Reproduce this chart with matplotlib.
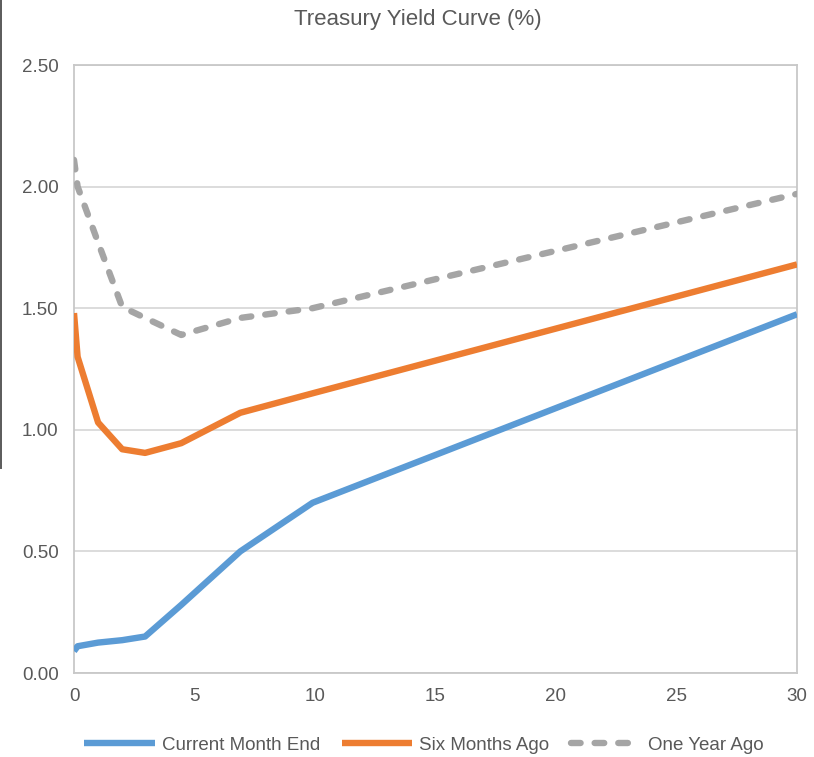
import matplotlib
matplotlib.use("Agg")
import matplotlib.pyplot as plt
from matplotlib.lines import Line2D

plt.rcParams['font.family'] = ['Liberation Sans', 'DejaVu Sans']

maturity = [0.0, 0.15, 1, 2, 2.95, 4.45, 6.9, 9.9, 30]
current_month_end = [0.09, 0.11, 0.125, 0.135, 0.15, 0.28, 0.50, 0.70, 1.475]
six_months_ago = [1.48, 1.30, 1.03, 0.92, 0.905, 0.945, 1.07, 1.15, 1.68]
one_year_ago = [2.11, 2.00, 1.77, 1.505, 1.46, 1.39, 1.46, 1.50, 1.97]

x_ticks = [0, 5, 10, 15, 20, 25, 30]
y_ticks = [0.0, 0.5, 1.0, 1.5, 2.0, 2.5]
title = "Treasury Yield Curve (%)"

W, H = 814, 757
fig = plt.figure(figsize=(W / 100, H / 100), dpi=100)
ax = fig.add_axes([74 / W, 1 - 673 / H, (797 - 74) / W, (673 - 65) / H])

grid_c = '#D9D9D9'
text_c = '#595959'

ax.plot(maturity, current_month_end, color='#5B9BD5', lw=4.6,
        solid_joinstyle='round', solid_capstyle='butt', label='Current Month End', zorder=3)
ax.plot(maturity, six_months_ago, color='#ED7D31', lw=4.6,
        solid_joinstyle='round', solid_capstyle='butt', label='Six Months Ago', zorder=3)
ax.plot(maturity, one_year_ago, color='#A5A5A5', lw=4.6, dashes=(1.5, 2.2),
        dash_capstyle='round', dash_joinstyle='round', label='One Year Ago', zorder=3)

ax.set_xlim(0, 30)
ax.set_ylim(0, 2.5)
ax.set_xticks(x_ticks)
ax.set_yticks(y_ticks)
ax.set_yticklabels([f"{v:.2f}" for v in y_ticks])
ax.tick_params(length=0, colors=text_c, labelsize=13.5)
ax.tick_params(axis='x', pad=11)
ax.tick_params(axis='y', pad=11)
ax.grid(axis='y', color=grid_c, lw=1.3)
ax.set_axisbelow(True)
for s in ax.spines.values():
    s.set_color('#C8C8C8')
    s.set_linewidth(1.3)

fig.text(417.5 / W, 1 - 20 / H, title, ha='center', va='center', fontsize=16, color=text_c)

leg = fig.legend(loc='center', bbox_to_anchor=(424 / W, 1 - 745 / H), ncol=3, frameon=False,
                 fontsize=13.5, handlelength=3.75, handletextpad=0.38, columnspacing=1.15)
for t in leg.get_texts():
    t.set_color(text_c)

# thin dark edge line at the left border of the image
fig.add_artist(Line2D([1 / W, 1 / W], [1.0, 1 - 468 / H], transform=fig.transFigure,
                      color='#5A5A5A', lw=1.4))

fig.savefig('out.png', dpi=100, facecolor='white')
